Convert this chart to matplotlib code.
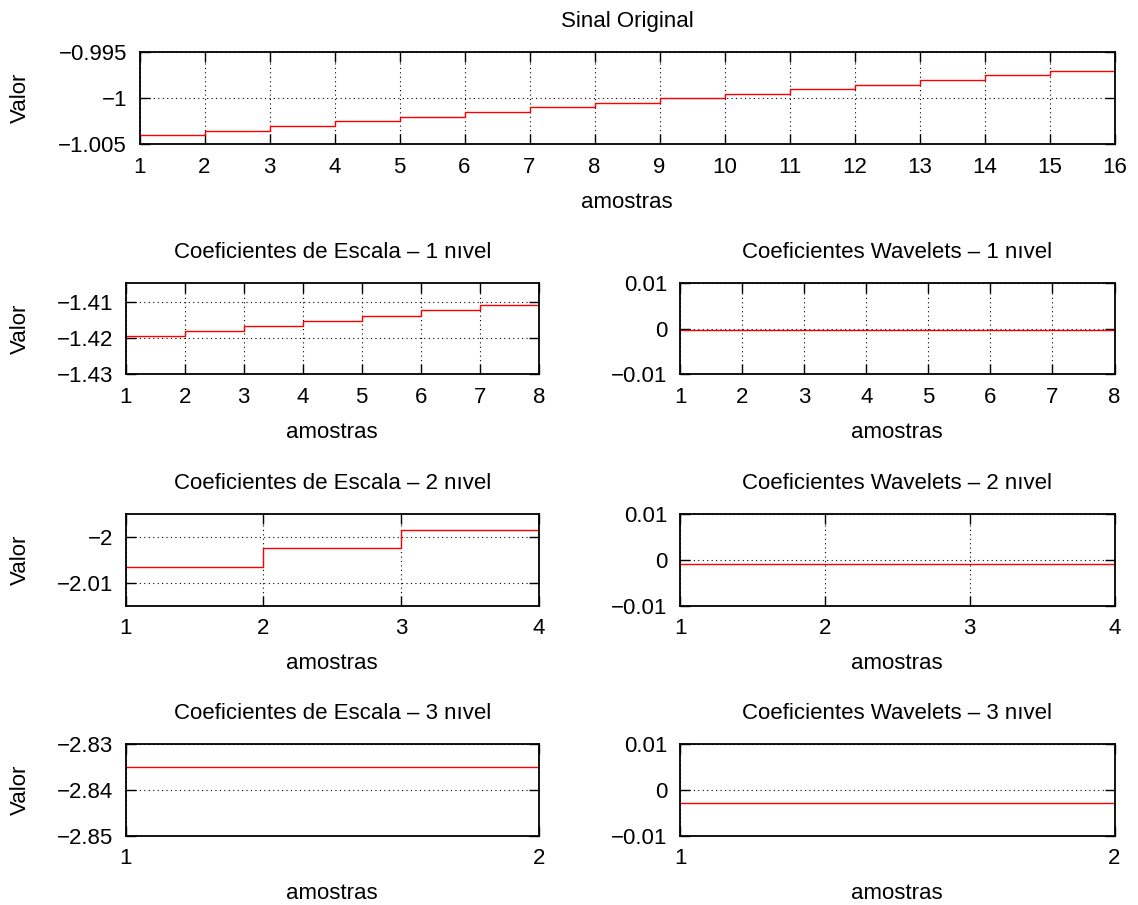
import matplotlib
matplotlib.use("Agg")
import matplotlib.pyplot as plt

# ---- data ----
x_sinal = [1, 2, 3, 4, 5, 6, 7, 8, 9, 10, 11, 12, 13, 14, 15, 16]
sinal = [-1.0040, -1.0035, -1.0030, -1.0025, -1.0020, -1.0015, -1.0010, -1.0005,
         -1.0000, -0.9995, -0.9990, -0.9985, -0.9980, -0.9975, -0.9970, -0.9965]

x_n1 = [1, 2, 3, 4, 5, 6, 7, 8]
escala1 = [-1.4195, -1.4181, -1.4167, -1.4153, -1.4139, -1.4124, -1.4110, -1.4096]
wavelet1 = [-0.00035, -0.00035, -0.00035, -0.00035, -0.00035, -0.00035, -0.00035, -0.00035]

x_n2 = [1, 2, 3, 4]
escala2 = [-2.0065, -2.0025, -1.9985, -1.9945]
wavelet2 = [-0.0010, -0.0010, -0.0010, -0.0010]

x_n3 = [1, 2]
escala3 = [-2.8350, -2.8235]
wavelet3 = [-0.0028, -0.0028]

titles = ["Sinal Original",
          "Coeficientes de Escala \u2013 1 n\u0131vel", "Coeficientes Wavelets \u2013 1 n\u0131vel",
          "Coeficientes de Escala \u2013 2 n\u0131vel", "Coeficientes Wavelets \u2013 2 n\u0131vel",
          "Coeficientes de Escala \u2013 3 n\u0131vel", "Coeficientes Wavelets \u2013 3 n\u0131vel"]

yt_sinal = [-1.005, -1.0, -0.995]
yl_sinal = ["\u22121.005", "\u22121", "\u22120.995"]
yt_e1 = [-1.43, -1.42, -1.41]
yl_e1 = ["\u22121.43", "\u22121.42", "\u22121.41"]
yt_e2 = [-2.01, -2.0]
yl_e2 = ["\u22122.01", "\u22122"]
yt_e3 = [-2.85, -2.84, -2.83]
yl_e3 = ["\u22122.85", "\u22122.84", "\u22122.83"]
yt_w = [-0.01, 0.0, 0.01]
yl_w = ["\u22120.01", "0", "0.01"]

plt.rcParams['font.family'] = ['Liberation Sans', 'DejaVu Sans']
FS = 16

W, H = 1138, 905
fig = plt.figure(figsize=(W / 100, H / 100), dpi=100)


def make_ax(px_left, px_right, px_top, px_bottom):
    return fig.add_axes([px_left / W, 1 - px_bottom / H,
                         (px_right - px_left) / W, (px_bottom - px_top) / H])


def style(ax, x, y, xlim, ylim, yt, yl, title, ylabel=True):
    ax.step(x, y, where='post', color='red', lw=1.0)
    ax.set_xlim(*xlim)
    ax.set_ylim(*ylim)
    ax.set_xticks(x)
    ax.set_xticklabels([str(v) for v in x])
    ax.set_yticks(yt)
    ax.set_yticklabels(yl)
    ax.grid(True, color='black', linestyle=(0, (1, 3)), linewidth=0.8)
    ax.tick_params(direction='in', length=7, width=1.0, top=True, right=True,
                   labelsize=FS, pad=9)
    ax.tick_params(axis='y', pad=9)
    for s in ax.spines.values():
        s.set_linewidth(1.3)
    ax.set_title(title, fontsize=FS, pad=18)
    ax.set_xlabel("amostras", fontsize=FS, labelpad=10)
    if ylabel:
        pos = ax.get_position()
        fig.text(20.5 / W, pos.y0 + pos.height / 2, "Valor", rotation=90,
                 ha='center', va='center', fontsize=FS)


LX0, LX1 = 125.7, 538.7
RX0, RX1 = 680.0, 1114.5
rows = [(283.3, 374.3), (514.0, 605.7), (744.0, 835.7)]

ax0 = make_ax(139.5, 1114.5, 52.3, 144.3)
style(ax0, x_sinal, sinal, (1, 16), (-1.005, -0.995), yt_sinal, yl_sinal, titles[0])

ax1 = make_ax(LX0, LX1, *rows[0])
style(ax1, x_n1, escala1, (1, 8), (-1.43, -1.405), yt_e1, yl_e1, titles[1])
ax2 = make_ax(RX0, RX1, *rows[0])
style(ax2, x_n1, wavelet1, (1, 8), (-0.01, 0.01), yt_w, yl_w, titles[2], ylabel=False)

ax3 = make_ax(LX0, LX1, *rows[1])
style(ax3, x_n2, escala2, (1, 4), (-2.015, -1.995), yt_e2, yl_e2, titles[3])
ax4 = make_ax(RX0, RX1, *rows[1])
style(ax4, x_n2, wavelet2, (1, 4), (-0.01, 0.01), yt_w, yl_w, titles[4], ylabel=False)

ax5 = make_ax(LX0, LX1, *rows[2])
style(ax5, x_n3, escala3, (1, 2), (-2.85, -2.83), yt_e3, yl_e3, titles[5])
ax6 = make_ax(RX0, RX1, *rows[2])
style(ax6, x_n3, wavelet3, (1, 2), (-0.01, 0.01), yt_w, yl_w, titles[6], ylabel=False)

fig.savefig("out.png", dpi=100)
